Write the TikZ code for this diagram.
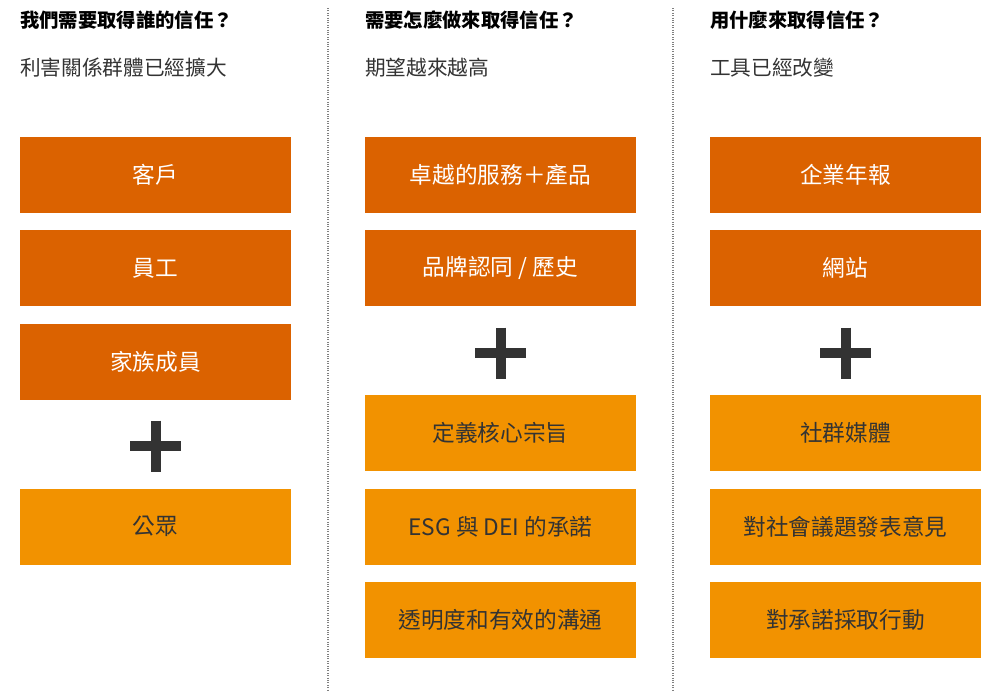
\documentclass[tikz,border=0pt]{standalone}
\usepackage{fontspec}
\setmainfont{Noto Sans CJK TC}
\newfontfamily\cjkb{Noto Sans CJK TC Bold}
\definecolor{dk}{HTML}{DB6200}
\definecolor{lt}{HTML}{F29200}
\definecolor{tx}{HTML}{333333}
\begin{document}
\begin{tikzpicture}[x=0.75pt,y=-0.75pt,
 dbox/.style={fill=dk,text=white,minimum width=203.25pt,minimum height=57pt,inner sep=0pt,font=\fontsize{17}{20}\selectfont},
 lbox/.style={fill=lt,text=tx,minimum width=203.25pt,minimum height=57pt,inner sep=0pt,font=\fontsize{17}{20}\selectfont},
 head/.style={anchor=west,font=\bfseries\fontsize{14.5}{17}\selectfont,text=black,inner sep=0pt},
 sub/.style={anchor=west,font=\fontsize{15.5}{18}\selectfont,text=tx,inner sep=0pt},
 sep/.style={densely dotted,draw=gray,line width=0.8pt},
 plus/.style={draw=tx,line width=7.5pt}]
\useasboundingbox (0,0) rectangle (1000,694);
\draw[sep] (328,8) -- (328,690);
\draw[sep] (673,8) -- (673,690);
% column 1
\node[head] (h1) at (20,20) {我們需要取得誰的信任？};
\node[sub] (s1) at (20,68) {利害關係群體已經擴大};
\node[dbox] (a1) at (155.5,175) {客戶};
\node[dbox] (a2) at (155.5,268) {員工};
\node[dbox] (a3) at (155.5,361.5) {家族成員};
\node[lbox] (a4) at (155.5,526.5) {公眾};
\draw[plus] (130,446) -- (181,446) (155.5,420.5) -- (155.5,471.5);
% column 2
\node[head] (h2) at (365,20) {需要怎麼做來取得信任？};
\node[sub] (s2) at (365,68) {期望越來越高};
\node[dbox] (b1) at (500.5,175) {卓越的服務＋產品};
\node[dbox] (b2) at (500.5,268) {品牌認同 / 歷史};
\draw[plus] (475,353) -- (526,353) (500.5,327.5) -- (500.5,378.5);
\node[lbox] (b3) at (500.5,433) {定義核心宗旨};
\node[lbox] (b4) at (500.5,526.5) {ESG 與 DEI 的承諾};
\node[lbox] (b5) at (500.5,619.5) {透明度和有效的溝通};
% column 3
\node[head] (h3) at (710,20) {用什麼來取得信任？};
\node[sub] (s3) at (710,68) {工具已經改變};
\node[dbox] (c1) at (845.5,175) {企業年報};
\node[dbox] (c2) at (845.5,268) {網站};
\draw[plus] (820,353) -- (871,353) (845.5,327.5) -- (845.5,378.5);
\node[lbox] (c3) at (845.5,433) {社群媒體};
\node[lbox] (c4) at (845.5,526.5) {對社會議題發表意見};
\node[lbox] (c5) at (845.5,619.5) {對承諾採取行動};
\end{tikzpicture}
\end{document}
